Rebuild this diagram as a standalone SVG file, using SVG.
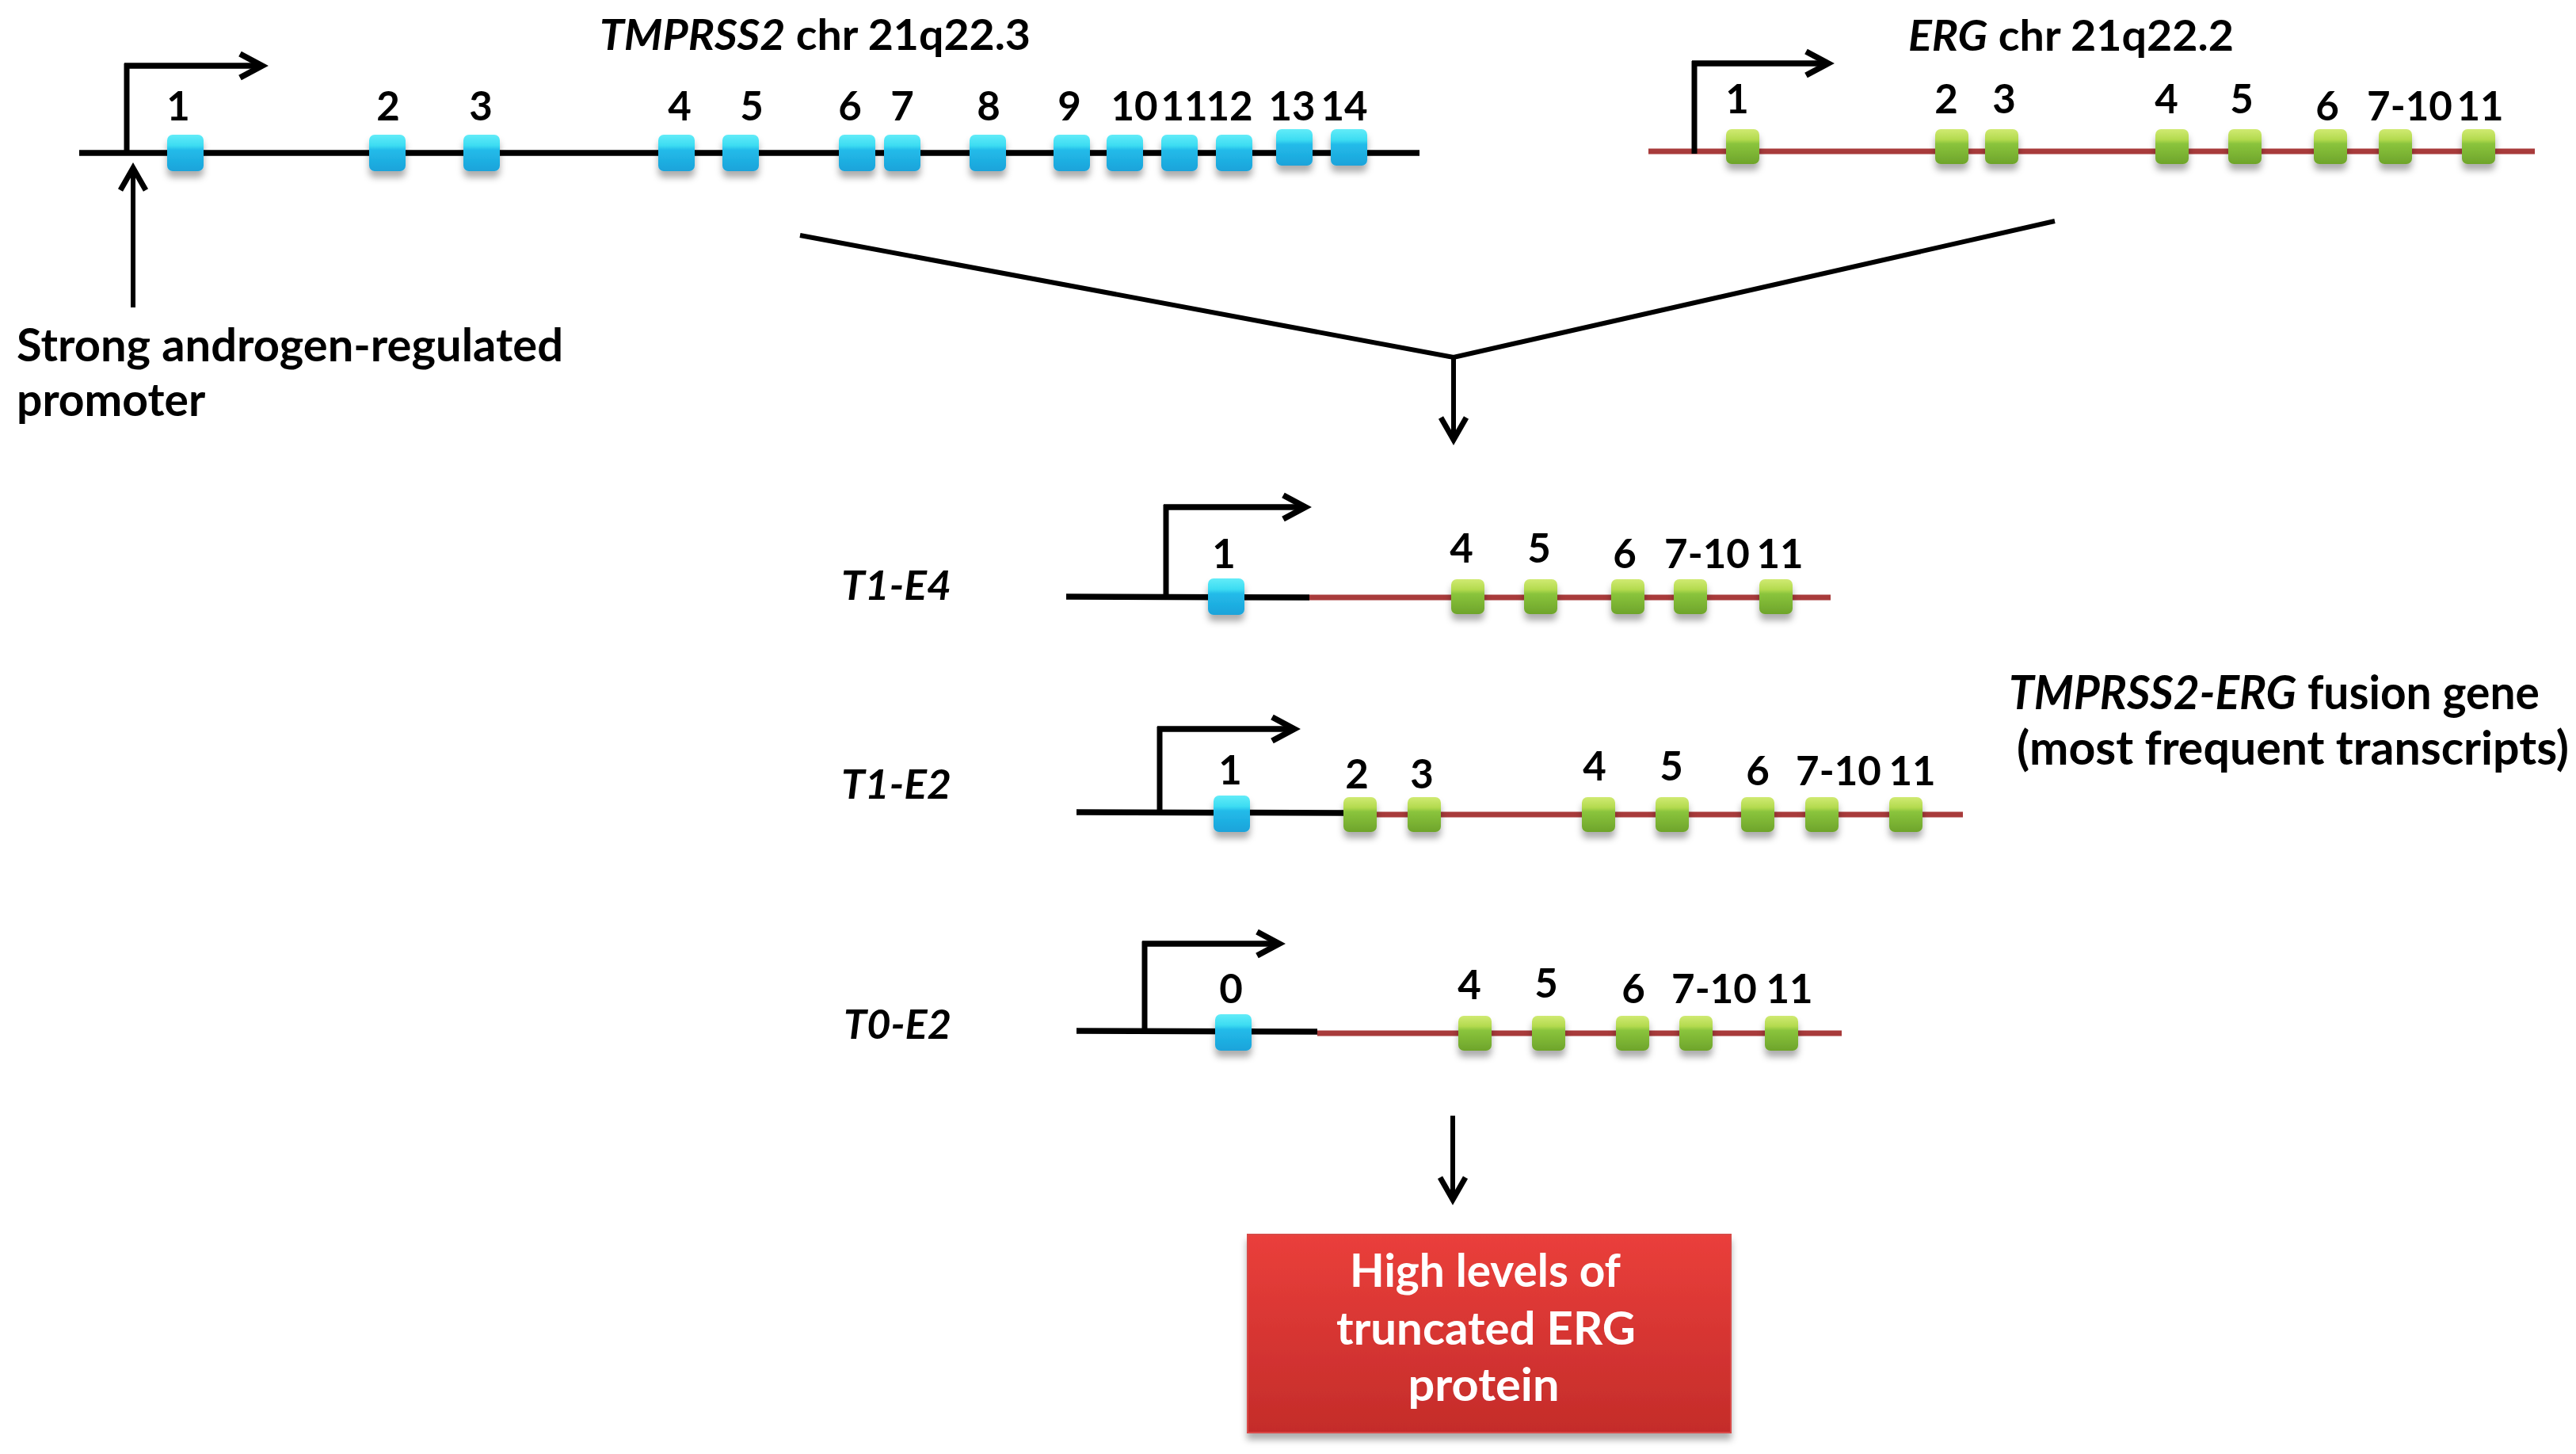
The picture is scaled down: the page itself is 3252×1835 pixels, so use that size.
<svg xmlns="http://www.w3.org/2000/svg" width="3252" height="1835" viewBox="0 0 3252 1835">
<style>
.t{font-family:Lato,"Liberation Sans",sans-serif;font-weight:bold;fill:#000}
.n{font-size:51px;text-anchor:middle}
.i{font-style:italic}
.blk{stroke:#000;stroke-width:7.5;fill:none}
.red{stroke:#a83b3b;stroke-width:7;fill:none}
.pv{stroke:#000;stroke-width:7;fill:none}
.ph{stroke:#000;stroke-width:7.5;fill:none;marker-end:url(#chev)}
.con{stroke:#000;stroke-width:6;fill:none}
.dn{stroke:#000;stroke-width:6;fill:none;marker-end:url(#arr)}
.w{fill:#fff;font-size:58px;text-anchor:middle}
</style>
<defs>
<linearGradient id="cyanG" x1="0" y1="0" x2="0" y2="1">
<stop offset="0" stop-color="#62ecf8"/><stop offset="0.3" stop-color="#3cdcf2"/><stop offset="0.42" stop-color="#23bbe9"/><stop offset="1" stop-color="#1aa3da"/>
</linearGradient>
<linearGradient id="greenG" x1="0" y1="0" x2="0" y2="1">
<stop offset="0" stop-color="#d0ea72"/><stop offset="0.3" stop-color="#b3da4e"/><stop offset="0.42" stop-color="#8ac43c"/><stop offset="1" stop-color="#6ea42b"/>
</linearGradient>
<linearGradient id="boxG" x1="0" y1="0" x2="0" y2="1">
<stop offset="0" stop-color="#ea3f3b"/><stop offset="1" stop-color="#c42c2a"/>
</linearGradient>
<filter id="sh" x="-40%" y="-40%" width="180%" height="190%">
<feDropShadow dx="0" dy="8" stdDeviation="4" flood-color="#000" flood-opacity="0.32"/>
</filter>
<rect id="cx" x="-23" y="-23" width="46" height="46" rx="7" fill="url(#cyanG)"/>
<rect id="gx" x="-21" y="-22" width="42" height="44" rx="7" fill="url(#greenG)"/>
<marker id="chev" markerUnits="userSpaceOnUse" markerWidth="44" markerHeight="44" viewBox="0 0 44 44" refX="34" refY="22" orient="auto">
<path d="M6,7 L34,22 L6,37" fill="none" stroke="#000" stroke-width="7.5"/>
</marker>
<marker id="arr" markerUnits="userSpaceOnUse" markerWidth="44" markerHeight="44" viewBox="0 0 44 44" refX="34" refY="22" orient="auto">
<path d="M6,6 L34,22 L6,38" fill="none" stroke="#000" stroke-width="7"/>
</marker>
</defs>
<rect width="3252" height="1835" fill="#fff"/>

<g id="tmprss2-gene">
<text class="t" x="757" y="63" font-size="54" textLength="544" lengthAdjust="spacingAndGlyphs"><tspan class="i">TMPRSS2</tspan> chr 21q22.3</text>
<line class="blk" x1="100" y1="193" x2="1792" y2="193"/>
<line class="pv" x1="160" y1="196" x2="160" y2="80"/>
<line class="ph" x1="157" y1="83" x2="331" y2="83"/>
<g filter="url(#sh)">
<use href="#cx" x="234" y="193"/><use href="#cx" x="489" y="193"/><use href="#cx" x="608" y="193"/>
<use href="#cx" x="854" y="193"/><use href="#cx" x="935" y="193"/><use href="#cx" x="1082" y="193"/>
<use href="#cx" x="1139" y="193"/><use href="#cx" x="1247" y="193"/><use href="#cx" x="1353" y="193"/>
<use href="#cx" x="1420" y="193"/><use href="#cx" x="1489" y="193"/><use href="#cx" x="1558" y="193"/>
<use href="#cx" x="1634" y="186"/><use href="#cx" x="1703" y="186"/>
</g>
<text class="t n" x="225" y="152">1</text><text class="t n" x="490" y="152">2</text><text class="t n" x="607" y="152">3</text>
<text class="t n" x="858" y="152">4</text><text class="t n" x="949" y="152">5</text><text class="t n" x="1073" y="152">6</text>
<text class="t n" x="1139" y="152">7</text><text class="t n" x="1248" y="152">8</text><text class="t n" x="1350" y="152">9</text>
<text class="t n" x="1432" y="152">10</text><text class="t n" x="1495" y="152">11</text><text class="t n" x="1552" y="152">12</text>
<text class="t n" x="1631" y="152">13</text><text class="t n" x="1697" y="152">14</text>
</g>

<g id="promoter-label">
<text class="t" x="21" y="456" font-size="57" textLength="690" lengthAdjust="spacingAndGlyphs">Strong androgen-regulated</text>
<text class="t" x="21" y="525" font-size="57">promoter</text>
</g>

<g id="erg-gene">
<text class="t" x="2409" y="64" font-size="54" textLength="411" lengthAdjust="spacingAndGlyphs"><tspan class="i">ERG</tspan> chr 21q22.2</text>
<line class="red" x1="2081" y1="191" x2="3200" y2="191"/>
<line class="pv" x1="2139" y1="194" x2="2139" y2="77"/>
<line class="ph" x1="2136" y1="80" x2="2308" y2="80"/>
<g filter="url(#sh)">
<use href="#gx" x="2200" y="185"/><use href="#gx" x="2464" y="185"/><use href="#gx" x="2527" y="185"/>
<use href="#gx" x="2742" y="185"/><use href="#gx" x="2834" y="185"/><use href="#gx" x="2942" y="185"/>
<use href="#gx" x="3024" y="185"/><use href="#gx" x="3129" y="185"/>
</g>
<text class="t n" x="2193" y="143">1</text><text class="t n" x="2457" y="143">2</text><text class="t n" x="2530" y="143">3</text>
<text class="t n" x="2735" y="143">4</text><text class="t n" x="2830" y="143">5</text><text class="t n" x="2938" y="152">6</text>
<text class="t n" x="3042" y="152">7-10</text><text class="t n" x="3131" y="152">11</text>
</g>

<g id="t1-e4">
<text class="t i" x="1062" y="757" font-size="52" textLength="139" lengthAdjust="spacingAndGlyphs">T1-E4</text>
<line class="blk" x1="1346" y1="753" x2="1653" y2="754"/>
<line class="red" x1="1653" y1="754" x2="2311" y2="754"/>
<line class="pv" x1="1472" y1="756" x2="1472" y2="637"/>
<line class="ph" x1="1469" y1="640" x2="1648" y2="640"/>
<g filter="url(#sh)">
<use href="#cx" x="1548" y="753"/>
<use href="#gx" x="1853" y="753"/><use href="#gx" x="1945" y="753"/><use href="#gx" x="2055" y="753"/>
<use href="#gx" x="2134" y="753"/><use href="#gx" x="2242" y="753"/>
</g>
<text class="t n" x="1545" y="717">1</text><text class="t n" x="1845" y="710">4</text><text class="t n" x="1943" y="710">5</text>
<text class="t n" x="2051" y="717">6</text><text class="t n" x="2155" y="717">7-10</text><text class="t n" x="2247" y="717">11</text>
</g>

<g id="fusion-label">
<text class="t" x="2536" y="895" font-size="60" textLength="670" lengthAdjust="spacingAndGlyphs"><tspan class="i">TMPRSS2-ERG</tspan> fusion gene</text>
<text class="t" x="2546" y="965" font-size="59" textLength="697" lengthAdjust="spacingAndGlyphs">(most frequent transcripts)</text>
</g>

<g id="t1-e2">
<text class="t i" x="1062" y="1008" font-size="52" textLength="139" lengthAdjust="spacingAndGlyphs">T1-E2</text>
<line class="blk" x1="1359" y1="1025" x2="1699" y2="1026"/>
<line class="red" x1="1699" y1="1028" x2="2478" y2="1028"/>
<line class="pv" x1="1464" y1="1028" x2="1464" y2="917"/>
<line class="ph" x1="1461" y1="920" x2="1634" y2="920"/>
<g filter="url(#sh)">
<use href="#cx" x="1555" y="1027"/>
<use href="#gx" x="1717" y="1028"/><use href="#gx" x="1798" y="1028"/><use href="#gx" x="2018" y="1028"/>
<use href="#gx" x="2111" y="1028"/><use href="#gx" x="2219" y="1028"/><use href="#gx" x="2300" y="1028"/>
<use href="#gx" x="2406" y="1028"/>
</g>
<text class="t n" x="1553" y="990">1</text><text class="t n" x="1713" y="995">2</text><text class="t n" x="1795" y="995">3</text>
<text class="t n" x="2013" y="985">4</text><text class="t n" x="2110" y="985">5</text><text class="t n" x="2219" y="991">6</text>
<text class="t n" x="2321" y="991">7-10</text><text class="t n" x="2414" y="991">11</text>
</g>

<g id="t0-e2">
<text class="t i" x="1065" y="1311" font-size="52" textLength="136" lengthAdjust="spacingAndGlyphs">T0-E2</text>
<line class="blk" x1="1359" y1="1301" x2="1663" y2="1302"/>
<line class="red" x1="1663" y1="1304" x2="2325" y2="1304"/>
<line class="pv" x1="1445" y1="1304" x2="1445" y2="1188"/>
<line class="ph" x1="1442" y1="1191" x2="1615" y2="1191"/>
<g filter="url(#sh)">
<use href="#cx" x="1557" y="1303"/>
<use href="#gx" x="1862" y="1304"/><use href="#gx" x="1955" y="1304"/><use href="#gx" x="2061" y="1304"/>
<use href="#gx" x="2141" y="1304"/><use href="#gx" x="2249" y="1304"/>
</g>
<text class="t n" x="1554" y="1266">0</text><text class="t n" x="1855" y="1261">4</text><text class="t n" x="1952" y="1259">5</text>
<text class="t n" x="2062" y="1266">6</text><text class="t n" x="2164" y="1266">7-10</text><text class="t n" x="2259" y="1266">11</text>
</g>

<g id="result-box">
<rect x="1575" y="1558" width="610" height="250" fill="url(#boxG)" stroke="#d94a46" stroke-width="2" filter="url(#sh)"/>
<text class="t w" x="1875" y="1624" textLength="342" lengthAdjust="spacingAndGlyphs">High levels of</text>
<text class="t w" x="1876" y="1697" textLength="378" lengthAdjust="spacingAndGlyphs">truncated ERG</text>
<text class="t w" x="1873" y="1768" textLength="191" lengthAdjust="spacingAndGlyphs">protein</text>
</g>

<g id="connectors">
<line class="dn" x1="168" y1="388" x2="168" y2="212"/>
<polyline class="con" points="1010,297 1835,451 2594,279"/>
<line class="dn" x1="1835" y1="451" x2="1835" y2="555"/>
<line class="dn" x1="1834" y1="1408" x2="1834" y2="1514"/>
</g>
</svg>
